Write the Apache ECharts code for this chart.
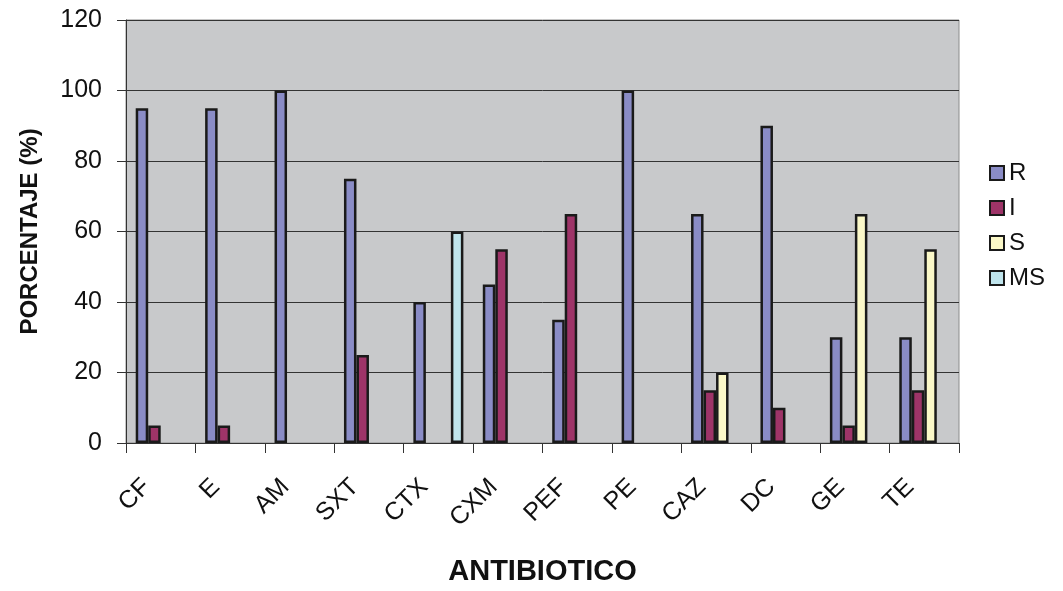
<!DOCTYPE html>
<html><head><meta charset="utf-8">
<script src="https://cdn.jsdelivr.net/npm/echarts@6/dist/echarts.min.js"></script>
<style>html,body{margin:0;padding:0;background:#fff}#c{width:1063px;height:591px}</style>
</head><body><div id="c"></div>
<script>
const categories = ['CF','E','AM','SXT','CTX','CXM','PEF','PE','CAZ','DC','GE','TE'];
const seriesR  = [95,95,100,75,40,45,35,100,65,90,30,30];
const seriesI  = [5,5,null,25,null,55,65,null,15,10,5,15];
const seriesS  = [null,null,null,null,null,null,null,null,20,null,65,55];
const seriesMS = [null,null,null,null,60,null,null,null,null,null,null,null];
const yTicks = [0,20,40,60,80,100,120];

const F = 'Liberation Sans, Arial, sans-serif';
const chart = echarts.init(document.getElementById('c'));
function bar(name, data, color){
  return {name, type:'bar', data, barWidth:12.5, barGap:'0%',
    itemStyle:{color, borderColor:'#1a1a1a', borderWidth:2.5}};
}
chart.setOption({
  animation:false,
  textStyle:{fontFamily:F},
  grid:{left:126, right:104, top:20, bottom:146, show:true, backgroundColor:'#c8c9cb', borderColor:'#8c8c8c', borderWidth:1},
  legend:{orient:'vertical', left:984, top:156, itemWidth:14, itemHeight:14, itemGap:11, icon:'rect',
    textStyle:{fontSize:24, color:'#111', fontFamily:F},
    data:['R','I','S','MS']},
  xAxis:{type:'category', data:categories, name:'ANTIBIOTICO', nameLocation:'middle', nameGap:114,
    nameTextStyle:{fontSize:29, fontWeight:'bold', color:'#111'},
    axisLine:{lineStyle:{color:'#333', width:1}},
    axisTick:{show:true, length:10, lineStyle:{color:'#333'}},
    axisLabel:{rotate:45, fontSize:25, color:'#111', margin:26, padding:[0,20,0,0]}},
  yAxis:{type:'value', min:0, max:120, interval:20, name:'PORCENTAJE (%)', nameLocation:'middle', nameGap:84,
    nameTextStyle:{fontSize:24, fontWeight:'bold', color:'#111'},
    axisLine:{show:true, lineStyle:{color:'#333'}},
    axisTick:{show:true, length:9, lineStyle:{color:'#333'}},
    axisLabel:{fontSize:25, color:'#111', margin:24, formatter:v=>yTicks.includes(v)?String(v):''},
    splitLine:{lineStyle:{color:'#333', width:1}}},
  series:[
    bar('R', seriesR, '#8a8cc6'),
    bar('I', seriesI, '#9e3468'),
    bar('S', seriesS, '#fbf8c8'),
    bar('MS', seriesMS, '#bfe4ec')
  ]
});
</script></body></html>
